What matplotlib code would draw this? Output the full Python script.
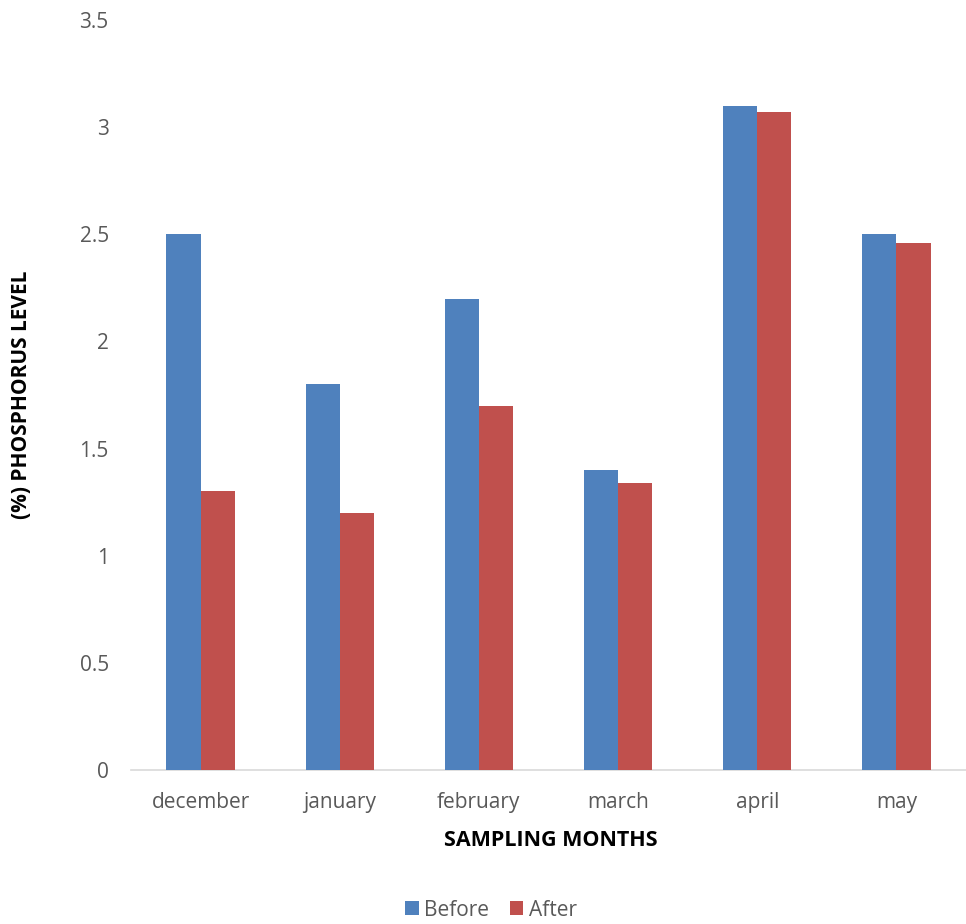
import matplotlib
matplotlib.use("Agg")
import matplotlib.pyplot as plt
import numpy as np

months = ["december", "january", "february", "march", "april", "may"]
before = [2.5, 1.8, 2.2, 1.4, 3.1, 2.5]
after = [1.3, 1.2, 1.7, 1.34, 3.07, 2.46]
yticks = [0, 0.5, 1, 1.5, 2, 2.5, 3, 3.5]
ytick_labels = ["0", "0.5", "1", "1.5", "2", "2.5", "3", "3.5"]

plt.rcParams["font.family"] = ["Open Sans", "DejaVu Sans"]

fig = plt.figure(figsize=(9.66, 9.24), dpi=100)
ax = fig.add_axes([131 / 966, 1 - 770 / 924, 835 / 966, (770 - 20) / 924])

x = np.arange(len(months))
w = 0.245
ax.bar(x - w / 2, before, width=w, color="#4F81BD", label="Before", zorder=3)
ax.bar(x + w / 2, after, width=w, color="#C0504D", label="After", zorder=3)

ax.set_xlim(-0.5, len(months) - 0.5)
ax.set_ylim(0, 3.5)
ax.set_yticks(yticks)
ax.set_yticklabels(ytick_labels)
ax.set_xticks(x)
ax.set_xticklabels(months)

for s in ["top", "right", "left"]:
    ax.spines[s].set_visible(False)
ax.spines["bottom"].set_color("#d9d9d9")
ax.spines["bottom"].set_linewidth(1.2)
ax.tick_params(axis="both", length=0, labelsize=15, colors="#595959")
ax.tick_params(axis="y", pad=16)
ax.tick_params(axis="x", pad=16)

fig.text(22 / 966, 1 - 395 / 924, "(%) PHOSPHORUS LEVEL", rotation=90,
         ha="center", va="center", fontsize=15, fontweight="bold", color="black")
fig.text(551 / 966, 1 - 840 / 924, "SAMPLING MONTHS",
         ha="center", va="center", fontsize=15.5, fontweight="bold", color="black")

leg = fig.legend(loc="center", bbox_to_anchor=(491 / 966, 1 - 910 / 924), ncol=2,
                 frameon=False, fontsize=15, handlelength=0.65, handleheight=0.65,
                 handletextpad=0.25, columnspacing=1.0)
for t in leg.get_texts():
    t.set_color("#595959")

fig.savefig("out.png", dpi=100)
